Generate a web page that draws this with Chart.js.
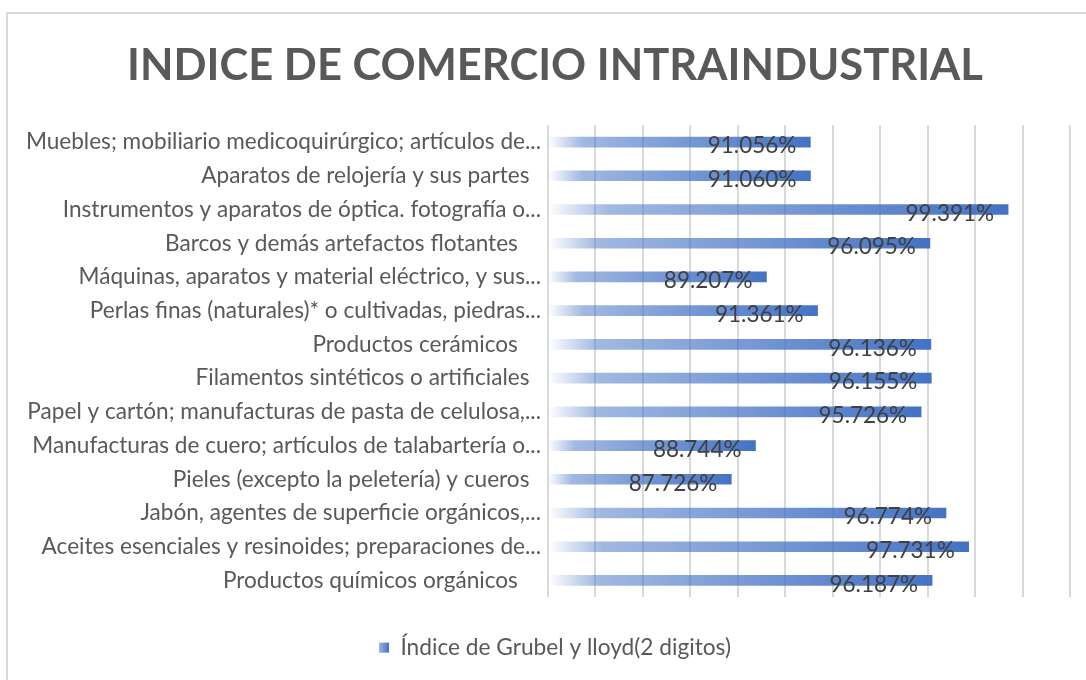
<!DOCTYPE html>
<html>
<head>
<meta charset="utf-8">
<script src="https://cdn.jsdelivr.net/npm/chart.js@4.4.0/dist/chart.umd.min.js"></script>
<style>
  html, body { margin: 0; padding: 0; background: #fff; }
  #wrap { position: relative; width: 1086px; height: 680px; overflow: hidden; }
  #frame { position: absolute; left: 6px; top: 12px; width: 1200px; height: 800px;
           border-left: 2px solid #d9d9d9; border-top: 2px solid #d9d9d9; }
  canvas { position: absolute; left: 0; top: 0; }
</style>
</head>
<body>
<div id="wrap">
  <div id="frame"></div>
  <canvas id="chart" width="1086" height="680"></canvas>
</div>
<script>
(function() {

    // categories, top to bottom as drawn (trailing spaces come from the source labels)
    var categories = [
        'Muebles; mobiliario medicoquirúrgico; artículos de...',
        'Aparatos de relojería y sus partes  ',
        'Instrumentos y aparatos de óptica. fotografía o...',
        'Barcos y demás artefactos flotantes    ',
        'Máquinas, aparatos y material eléctrico, y sus...',
        'Perlas finas (naturales)* o cultivadas, piedras...',
        'Productos cerámicos    ',
        'Filamentos sintéticos o artificiales  ',
        'Papel y cartón; manufacturas de pasta de celulosa,...',
        'Manufacturas de cuero; artículos de talabartería o...',
        'Pieles (excepto la peletería) y cueros  ',
        'Jabón, agentes de superficie orgánicos,...',
        'Aceites esenciales y resinoides; preparaciones de...',
        'Productos químicos orgánicos    '
    ];

    // Índice de Grubel y Lloyd (fraction)
    var grubelLloyd = [
        0.91056, 0.91060, 0.99391, 0.96095, 0.89207, 0.91361, 0.96136,
        0.96155, 0.95726, 0.88744, 0.87726, 0.96774, 0.97731, 0.96187
    ];

    var seriesName = 'Índice de Grubel y lloyd(2 digitos)';
    var axisMin = 0.80, axisMax = 1.02, axisStep = 0.02;

    var blue = '#4472C4';
    var grey = '#595959';
    var fontFamily = 'Lato, "Open Sans", sans-serif';

    function barGradient(ctx, x0, x1) {
        var g = ctx.createLinearGradient(x0, 0, x1, 0);
        g.addColorStop(0, 'rgba(68,114,196,0)');
        g.addColorStop(0.13, 'rgba(68,114,196,0.5)');
        g.addColorStop(1, 'rgba(68,114,196,1)');
        return g;
    }

    // percentage labels near the end of each bar
    var valueLabels = {
        id: 'valueLabels',
        afterDatasetsDraw: function(chart) {
            var ctx = chart.ctx;
            var meta = chart.getDatasetMeta(0);
            ctx.save();
            ctx.font = '22.5px ' + fontFamily;
            ctx.fillStyle = '#404040';
            ctx.textAlign = 'right';
            ctx.textBaseline = 'middle';
            meta.data.forEach(function(bar, i) {
                var txt = (grubelLloyd[i] * 100).toFixed(3) + '%';
                ctx.fillText(txt, bar.x - 14, bar.y + 4);
            });
            ctx.restore();
        }
    };

    // gradient square in the legend
    var legendBox = {
        id: 'legendBox',
        afterDraw: function(chart) {
            var hb = chart.legend.legendHitBoxes && chart.legend.legendHitBoxes[0];
            if (!hb) return;
            var ctx = chart.ctx;
            var s = 10;
            var x = hb.left, y = hb.top + (hb.height - s) / 2;
            ctx.save();
            var g = ctx.createLinearGradient(x, 0, x + s, 0);
            g.addColorStop(0, '#9db4e2');
            g.addColorStop(1, blue);
            ctx.fillStyle = g;
            ctx.fillRect(x, y, s, s);
            ctx.restore();
        }
    };

    const ctx = document.getElementById('chart').getContext('2d');

    const chart = new Chart(ctx, {
        type: 'bar',
        data: {
            labels: categories,
            datasets: [{
                label: seriesName,
                data: grubelLloyd,
                base: axisMin,
                barThickness: 10,
                backgroundColor: function(c) {
                    var ch = c.chart;
                    if (!ch.chartArea || c.type !== 'data') return blue;
                    var xs = ch.scales.x;
                    var x0 = xs.getPixelForValue(axisMin);
                    var x1 = xs.getPixelForValue(c.raw);
                    if (!isFinite(x0) || !isFinite(x1) || x1 <= x0) return blue;
                    return barGradient(ch.ctx, x0, x1);
                },
                borderWidth: 0
            }]
        },
        options: {
            indexAxis: 'y',
            responsive: false,
            animation: false,
            layout: { padding: { left: 24, right: 0, top: 0, bottom: 11 } },
            scales: {
                x: {
                    min: axisMin,
                    max: axisMax,
                    ticks: { display: false, stepSize: axisStep },
                    grid: { color: '#d9d9d9', lineWidth: 2, drawTicks: false },
                    border: { display: false },
                    afterFit: function(s) { s.height = 19; }
                },
                y: {
                    grid: { display: false, drawTicks: false },
                    border: { display: false },
                    ticks: {
                        color: grey,
                        font: { family: fontFamily, size: 22.6 },
                        padding: 7,
                        autoSkip: false
                    },
                    afterFit: function(s) { s.width = 524; }
                },
                // empty spacer on the right so the plot ends before the frame edge
                spacer: {
                    type: 'linear',
                    position: 'right',
                    axis: 'y',
                    ticks: { display: false },
                    grid: { display: false, drawTicks: false },
                    border: { display: false },
                    afterFit: function(s) { s.width = 16; }
                }
            },
            plugins: {
                title: {
                    display: true,
                    text: 'INDICE DE COMERCIO INTRAINDUSTRIAL',
                    color: grey,
                    font: { family: fontFamily, size: 43.5, weight: 'bold' },
                    padding: { top: 40, bottom: 33 }
                },
                legend: {
                    position: 'bottom',
                    labels: {
                        color: grey,
                        font: { family: fontFamily, size: 22.7 },
                        boxWidth: 10,
                        boxHeight: 10,
                        padding: 20,
                        generateLabels: function() {
                            return [{
                                text: seriesName,
                                fillStyle: 'rgba(0,0,0,0)',
                                strokeStyle: 'rgba(0,0,0,0)',
                                lineWidth: 0,
                                fontColor: grey,
                                datasetIndex: 0
                            }];
                        }
                    }
                },
                tooltip: { enabled: false }
            }
        },
        plugins: [valueLabels, legendBox]
    });

})();
</script>
</body>
</html>
